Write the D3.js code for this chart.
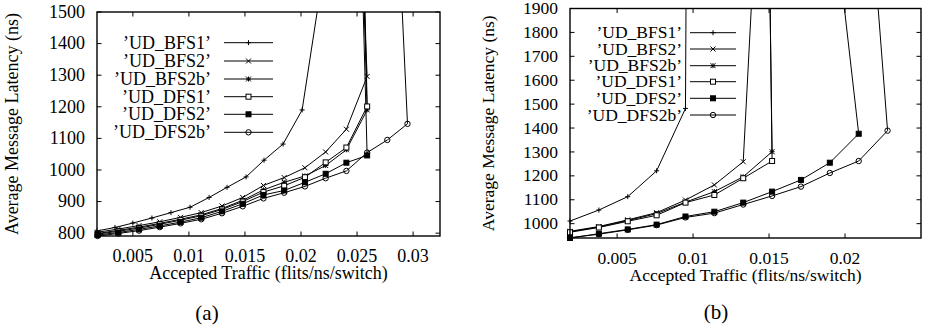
<!DOCTYPE html>
<html>
<head>
<meta charset="utf-8">
<script src="https://cdn.jsdelivr.net/npm/d3@7"></script>
<style>
  body { margin: 0; background: #fff; }
  text { font-family: "Liberation Serif", "Times New Roman", serif; fill: #000; }
</style>
</head>
<body>
<script>
// legend names and gnuplot point types, same order in both panels
const seriesNames = ["’UD_BFS1’", "’UD_BFS2’", "’UD_BFS2b’", "’UD_DFS1’", "’UD_DFS2’", "’UD_DFS2b’"];
const markerTypes = ["plus", "cross", "star", "square", "filledSquare", "circle"];

// panel (a)
const aTicksX = [0.005, 0.01, 0.015, 0.02, 0.025, 0.03];
const aTicksY = [800, 900, 1000, 1100, 1200, 1300, 1400, 1500];
const aBfs1X  = [0.0018, 0.0034, 0.0050, 0.0067, 0.0084, 0.0101, 0.0118, 0.0134, 0.0151, 0.0167, 0.0184, 0.0201, 0.0217];
const aBfs1Y  = [807, 818, 832, 848, 865, 882, 913, 945, 978, 1031, 1082, 1190, 1560];
const aBfs2X  = [0.00185, 0.0037, 0.00555, 0.0074, 0.00925, 0.0111, 0.01295, 0.0148, 0.01665, 0.0185, 0.02035, 0.0222, 0.02405, 0.0259, 0.0254];
const aBfs2Y  = [803, 813, 824, 836, 850, 865, 886, 913, 951, 976, 1007, 1057, 1129, 1296, 1700];
const aBfs2bX = [0.00185, 0.0037, 0.00555, 0.0074, 0.00925, 0.0111, 0.01295, 0.0148, 0.01665, 0.0185, 0.02035, 0.0222, 0.02405, 0.0259, 0.0255];
const aBfs2bY = [799, 809, 819, 831, 844, 858, 878, 904, 937, 961, 981, 1014, 1064, 1190, 1700];
const aDfs1X  = [0.00185, 0.0037, 0.00555, 0.0074, 0.00925, 0.0111, 0.01295, 0.0148, 0.01665, 0.0185, 0.02035, 0.0222, 0.02405, 0.0259, 0.0256];
const aDfs1Y  = [797, 806, 816, 828, 841, 855, 875, 900, 930, 950, 977, 1024, 1071, 1201, 1700];
const aDfs2X  = [0.00185, 0.0037, 0.00555, 0.0074, 0.00925, 0.0111, 0.01295, 0.0148, 0.01665, 0.0185, 0.02035, 0.0222, 0.02405, 0.0259, 0.0254];
const aDfs2Y  = [794, 802, 812, 823, 835, 849, 869, 893, 921, 935, 961, 988, 1023, 1046, 1700];
const aDfs2bX = [0.00185, 0.0037, 0.00555, 0.0074, 0.00925, 0.0111, 0.01295, 0.0148, 0.01665, 0.0185, 0.02035, 0.0222, 0.02405, 0.0259, 0.0277, 0.0295, 0.0289];
const aDfs2bY = [791, 799, 808, 819, 831, 844, 863, 885, 910, 928, 948, 974, 997, 1055, 1095, 1146, 1600];

// panel (b)
const bTicksX = [0.005, 0.01, 0.015, 0.02];
const bTicksY = [1000, 1100, 1200, 1300, 1400, 1500, 1600, 1700, 1800, 1900];
const bBfs1X  = [0.0019, 0.0038, 0.0057, 0.0076, 0.0095, 0.00955];
const bBfs1Y  = [1011, 1057, 1113, 1221, 1482, 2100];
const bBfs2X  = [0.0019, 0.0038, 0.0057, 0.0076, 0.0095, 0.0114, 0.0133, 0.01387];
const bBfs2Y  = [968, 988, 1016, 1046, 1099, 1162, 1259, 1950];
const bBfs2bX = [0.0019, 0.0038, 0.0057, 0.0076, 0.0095, 0.0114, 0.0133, 0.0152, 0.01505];
const bBfs2bY = [966, 986, 1013, 1042, 1090, 1134, 1196, 1301, 2000];
const bDfs1X  = [0.0019, 0.0038, 0.0057, 0.0076, 0.0095, 0.0114, 0.0133, 0.0152, 0.01505];
const bDfs1Y  = [964, 984, 1010, 1035, 1088, 1120, 1190, 1262, 2000];
const bDfs2X  = [0.0019, 0.0038, 0.0057, 0.0076, 0.0095, 0.0114, 0.0133, 0.0152, 0.0171, 0.019, 0.0209, 0.01978];
const bDfs2Y  = [940, 958, 976, 996, 1030, 1050, 1088, 1134, 1183, 1255, 1376, 2000];
const bDfs2bX = [0.0019, 0.0038, 0.0057, 0.0076, 0.0095, 0.0114, 0.0133, 0.0152, 0.0171, 0.019, 0.0209, 0.0228, 0.02206];
const bDfs2bY = [941, 956, 974, 994, 1026, 1044, 1080, 1116, 1155, 1212, 1262, 1389, 2000];

const W = 926, H = 330;
const svg = d3.select("body").append("svg").attr("width", W).attr("height", H);

function zip(xs, ys) { return xs.map((x, i) => ({ x: x, y: ys[i] })); }

// gnuplot-ish point symbols
function marker(g, type, cx, cy) {
  const s = 2.5;
  if (type === "plus" || type === "star") {
    g.append("path").attr("d", `M${cx - s},${cy}H${cx + s}M${cx},${cy - s}V${cy + s}`)
      .attr("stroke", "#000").attr("stroke-width", 1);
  }
  if (type === "cross" || type === "star") {
    g.append("path").attr("d", `M${cx - s},${cy - s}L${cx + s},${cy + s}M${cx - s},${cy + s}L${cx + s},${cy - s}`)
      .attr("stroke", "#000").attr("stroke-width", 1);
  }
  if (type === "square" || type === "filledSquare") {
    g.append("rect").attr("x", cx - s).attr("y", cy - s).attr("width", 2 * s).attr("height", 2 * s)
      .attr("fill", type === "filledSquare" ? "#000" : "#fff").attr("stroke", "#000").attr("stroke-width", 1);
  }
  if (type === "circle") {
    g.append("circle").attr("cx", cx).attr("cy", cy).attr("r", 2.7)
      .attr("fill", "none").attr("stroke", "#000").attr("stroke-width", 1);
  }
}

function drawPanel(cfg) {
  const { id, left, right, top, bottom, xDomain, yDomain, xTicks, yTicks, xFmt, series, legend, fs, caption } = cfg;
  const x = d3.scaleLinear().domain(xDomain).range([left, right]);
  const y = d3.scaleLinear().domain(yDomain).range([bottom, top]);
  const g = svg.append("g");

  g.append("clipPath").attr("id", id)
    .append("rect").attr("x", left).attr("y", top).attr("width", right - left).attr("height", bottom - top);

  const tl = 4.5;
  // ticks on all four sides, pointing inward
  xTicks.forEach(t => {
    g.append("line").attr("x1", x(t)).attr("x2", x(t)).attr("y1", bottom).attr("y2", bottom - tl).attr("stroke", "#000");
    g.append("line").attr("x1", x(t)).attr("x2", x(t)).attr("y1", top).attr("y2", top + tl).attr("stroke", "#000");
    g.append("text").attr("x", x(t)).attr("y", bottom + 26).attr("text-anchor", "middle")
      .style("font-size", fs + "px").text(xFmt(t));
  });
  yTicks.forEach(t => {
    g.append("line").attr("x1", left).attr("x2", left + tl).attr("y1", y(t)).attr("y2", y(t)).attr("stroke", "#000");
    g.append("line").attr("x1", right).attr("x2", right - tl).attr("y1", y(t)).attr("y2", y(t)).attr("stroke", "#000");
    g.append("text").attr("x", left - 12).attr("y", y(t) + fs * 0.32).attr("text-anchor", "end")
      .style("font-size", fs + "px").text(t);
  });

  // legend
  legend.forEach((ly, i) => {
    g.append("text").attr("x", cfg.legendTextX).attr("y", ly + fs * 0.33).attr("text-anchor", "end")
      .style("font-size", fs + "px").text(seriesNames[i]);
    g.append("line").attr("x1", cfg.legendLine[0]).attr("x2", cfg.legendLine[1]).attr("y1", ly).attr("y2", ly)
      .attr("stroke", "#000").attr("stroke-width", 1);
    marker(g, markerTypes[i], (cfg.legendLine[0] + cfg.legendLine[1]) / 2, ly);
  });

  const line = d3.line().x(d => x(d.x)).y(d => y(d.y));
  const plot = g.append("g").attr("clip-path", `url(#${id})`);
  series.forEach(pts => {
    plot.append("path").datum(pts).attr("d", line)
      .attr("fill", "none").attr("stroke", "#000").attr("stroke-width", 1);
  });
  series.forEach((pts, i) => {
    pts.filter(d => d.x >= xDomain[0] && d.x <= xDomain[1] && d.y >= yDomain[0] && d.y <= yDomain[1])
      .forEach(d => marker(g, markerTypes[i], x(d.x), y(d.y)));
  });

  // frame
  g.append("rect").attr("x", left).attr("y", top).attr("width", right - left).attr("height", bottom - top)
    .attr("fill", "none").attr("stroke", "#000").attr("stroke-width", 1.4);

  // axis titles and caption
  g.append("text").attr("x", (left + right) / 2).attr("y", bottom + 43).attr("text-anchor", "middle")
    .style("font-size", fs + "px").text("Accepted Traffic (flits/ns/switch)");
  g.append("text").attr("transform", `translate(${cfg.yTitleX},${(top + bottom) / 2}) rotate(-90)`)
    .attr("text-anchor", "middle").style("font-size", fs + "px").text("Average Message Latency (ns)");
  g.append("text").attr("x", caption[0]).attr("y", caption[1]).attr("text-anchor", "middle")
    .style("font-size", "21px").text(caption[2]);
}

const fmt = d => String(+d.toFixed(3));

drawPanel({
  id: "clipA", left: 97, right: 440, top: 12, bottom: 236,
  xDomain: [0.0018, 0.0324], yDomain: [791, 1500],
  xTicks: aTicksX, yTicks: aTicksY, xFmt: fmt, fs: 18,
  series: [zip(aBfs1X, aBfs1Y), zip(aBfs2X, aBfs2Y), zip(aBfs2bX, aBfs2bY),
           zip(aDfs1X, aDfs1Y), zip(aDfs2X, aDfs2Y), zip(aDfs2bX, aDfs2bY)],
  legend: [42.7, 61, 79, 96.7, 114.3, 132.3],
  legendTextX: 211, legendLine: [224, 273],
  yTitleX: 18, caption: [207, 320, "(a)"]
});

drawPanel({
  id: "clipB", left: 570, right: 921, top: 8.5, bottom: 238,
  xDomain: [0.0019, 0.025], yDomain: [940, 1900],
  xTicks: bTicksX, yTicks: bTicksY, xFmt: fmt, fs: 17.5,
  series: [zip(bBfs1X, bBfs1Y), zip(bBfs2X, bBfs2Y), zip(bBfs2bX, bBfs2bY),
           zip(bDfs1X, bDfs1Y), zip(bDfs2X, bDfs2Y), zip(bDfs2bX, bDfs2bY)],
  legend: [32.7, 49, 65.7, 81.7, 98.3, 115],
  legendTextX: 682, legendLine: [690, 736],
  yTitleX: 494, caption: [716, 319, "(b)"]
});
</script>
</body>
</html>
